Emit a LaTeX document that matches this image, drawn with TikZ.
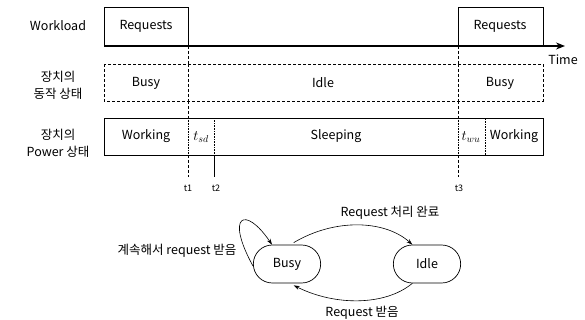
\documentclass[tikz,border=0pt]{standalone}
\usepackage{fontspec}
\setmainfont{Noto Sans CJK KR}
\usetikzlibrary{arrows.meta,shapes.misc}
\begin{document}
\begin{tikzpicture}[x=1pt,y=-1pt,
  every node/.style={font=\fontsize{12.5}{14}\selectfont},
  lbl/.style={align=center,font=\fontsize{12.5}{17}\selectfont},
  cell/.style={draw,line width=0.6pt},
  dcell/.style={draw,densely dashed,line width=0.5pt},
  tcell/.style={draw,densely dotted,line width=0.6pt},
  state/.style={draw,rounded rectangle,minimum width=74pt,minimum height=38pt,line width=0.7pt},
  conn/.style={-{Stealth[length=6pt,width=4pt]},line width=0.6pt},
  vline/.style={densely dashed,line width=0.5pt}]
\useasboundingbox (0,0) rectangle (585,320);
% Row 1: workload
\node[lbl] (wl) at (58,26) {Workload};
\draw[cell] (104,46) -- (104,7) -- (188,7) -- (188,46);
\node (rq1) at (146,26) {Requests};
\draw[cell] (458,46) -- (458,7) -- (543,7) -- (543,46);
\node (rq2) at (500,26) {Requests};
\coordinate (tstart) at (104,46);
\coordinate (tend) at (565,46);
\draw[-{Stealth[length=9pt,width=7pt]},line width=1.3pt] (tstart) -- (tend);
\node (time) at (563,60) {Time};
% Row 2
\node[lbl] (r2) at (58,85) {장치의\\동작 상태};
\draw[dcell] (104,64) rectangle (543,101);
\draw[dcell] (188,64) -- (188,101);
\draw[dcell] (458,64) -- (458,101);
\node (busy1) at (146,83) {Busy};
\node (idle1) at (323,83) {Idle};
\node (busy2) at (500,83) {Busy};
% Row 3
\node[lbl] (r3) at (58,143) {장치의\\Power 상태};
\draw[cell] (104,118) rectangle (543,155);
\draw[tcell] (188,118) rectangle (214,155);
\draw[tcell] (458,118) rectangle (485,155);
\node (wk1) at (146,136) {Working};
\node[font=\fontsize{14}{14}\selectfont] (tsd) at (201,137) {$t_{sd}$};
\node (sl) at (336,136) {Sleeping};
\node[font=\fontsize{14}{14}\selectfont] (twu) at (471,137) {$t_{wu}$};
\node (wk2) at (514,136) {Working};
% vertical markers
\draw[vline] (188,46) -- (188,64);
\draw[vline] (188,101) -- (188,118);
\draw[vline] (188,155) -- (188,177);
\draw[line width=0.6pt] (214,155) -- (214,177);
\draw[vline] (458,46) -- (458,64);
\draw[vline] (458,101) -- (458,118);
\draw[vline] (458,155) -- (458,177);
\node[font=\fontsize{9}{10}\selectfont] (t1) at (188,188) {t1};
\node[font=\fontsize{9}{10}\selectfont] (t2) at (216,188) {t2};
\node[font=\fontsize{9}{10}\selectfont] (t3) at (459,188) {t3};
% State diagram
\node[state] (busy) at (287,264) {Busy};
\node[state] (idle) at (427,264) {Idle};
\draw[conn] ([xshift=-8pt,yshift=2pt]busy.north east) .. controls (335,218) and (385,220) .. (idle.north west);
\draw[conn] (idle.south west) .. controls (385,306) and (335,306) .. ([xshift=-8pt,yshift=-2pt]busy.south east);
\draw[conn] ([yshift=-2pt]busy.west) .. controls (225,215) and (245,205) .. ([xshift=-15pt]busy.north);
\node (lab1) at (390,213) {Request 처리 완료};
\node (lab2) at (362,313) {Request 받음};
\node[anchor=east] (lab3) at (240,251) {계속해서 request 받음};
\end{tikzpicture}
\end{document}
